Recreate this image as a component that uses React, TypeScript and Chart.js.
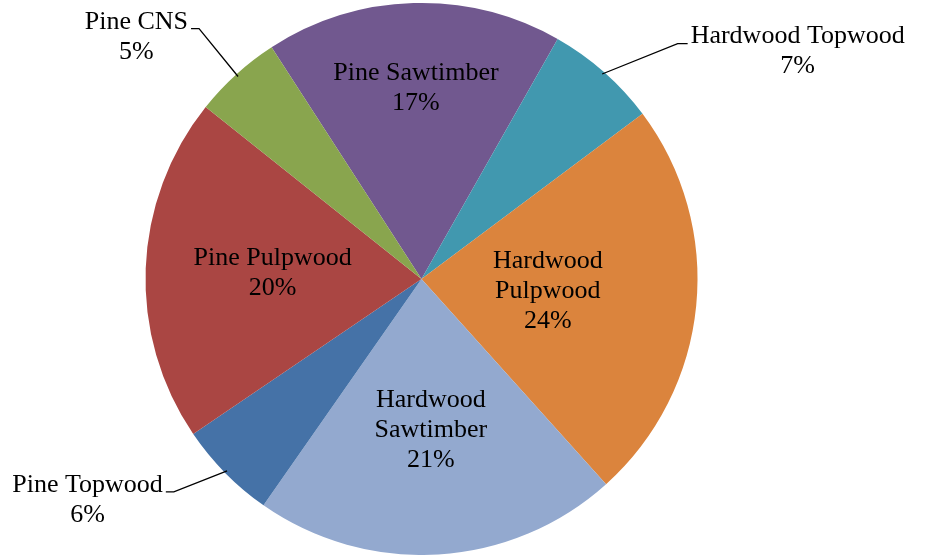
import React, { useEffect, useRef } from "react";
import { Chart, registerables } from "chart.js";

Chart.register(...registerables);

const categories = [
  "Pine Sawtimber",
  "Hardwood Topwood",
  "Hardwood Pulpwood",
  "Hardwood Sawtimber",
  "Pine Topwood",
  "Pine Pulpwood",
  "Pine CNS",
];
const shares = [17.35, 6.57, 23.56, 21.36, 5.8, 20.21, 5.15];
const colors = ["#71588F", "#4198AF", "#DB843D", "#93A9CF", "#4572A7", "#AA4643", "#89A54E"];

// label layout (relative to pie centre, in units of radius)
const labelLayout: any[] = [
  { kind: "in", f: 0.69, wrap: false },
  { kind: "out", dx: 1.363, dy: -0.824, side: "left" },
  { kind: "in", f: 0.46, wrap: true },
  { kind: "in", f: 0.55, wrap: true },
  { kind: "out", dx: -1.21, dy: 0.8, side: "right" },
  { kind: "in", f: 0.54, wrap: false },
  { kind: "out", dx: -1.033, dy: -0.878, side: "right" },
];

const FONT = '26px "Liberation Serif"';
const LINE_H = 30;

const labelPlugin = {
  id: "pieLabels",
  afterDraw(chart: any) {
    const ctx = chart.ctx;
    const meta = chart.getDatasetMeta(0);
    const total = shares.reduce((a, b) => a + b, 0);
    ctx.save();
    ctx.font = FONT;
    ctx.fillStyle = "#000";
    ctx.textAlign = "center";
    ctx.textBaseline = "middle";
    meta.data.forEach((arc: any, i: number) => {
      const { x, y, startAngle, endAngle, outerRadius } = arc.getProps(
        ["x", "y", "startAngle", "endAngle", "outerRadius"],
        true
      );
      const mid = (startAngle + endAngle) / 2;
      const pct = Math.round((shares[i] / total) * 100) + "%";
      const L = labelLayout[i];
      let lines: string[];
      let cx: number, cy: number;
      if (L.kind === "in") {
        lines = L.wrap ? [...categories[i].split(" "), pct] : [categories[i], pct];
        cx = x + Math.cos(mid) * outerRadius * L.f;
        cy = y + Math.sin(mid) * outerRadius * L.f;
      } else {
        lines = [categories[i], pct];
        cx = x + L.dx * outerRadius;
        cy = y + L.dy * outerRadius;
        const w = ctx.measureText(categories[i]).width;
        const ly = cy - 8;
        const ex = x + Math.cos(mid) * outerRadius * 0.99;
        const ey = y + Math.sin(mid) * outerRadius * 0.99;
        let hx1: number, hx2: number;
        if (L.side === "right") {
          hx1 = cx + w / 2 + 3;
          hx2 = hx1 + 8;
        } else {
          hx1 = cx - w / 2 - 3;
          hx2 = hx1 - 10;
        }
        ctx.beginPath();
        ctx.strokeStyle = "#000";
        ctx.lineWidth = 1.3;
        ctx.moveTo(hx1, ly);
        ctx.lineTo(hx2, ly);
        ctx.lineTo(ex, ey);
        ctx.stroke();
      }
      const top = cy - ((lines.length - 1) * LINE_H) / 2;
      lines.forEach((t, k) => ctx.fillText(t, cx, top + k * LINE_H));
    });
    ctx.restore();
  },
};

export default function App() {
  const ref = useRef<HTMLCanvasElement>(null);
  useEffect(() => {
    document.body.style.margin = "0";
    const chart = new Chart(ref.current!, {
      type: "pie",
      data: {
        labels: categories,
        datasets: [
          {
            data: shares,
            backgroundColor: colors,
            borderWidth: 0,
          },
        ],
      },
      options: {
        animation: false,
        responsive: false,
        rotation: -32.9,
        layout: { padding: { top: 3, bottom: 0, left: 0, right: 83 } },
        plugins: { legend: { display: false }, tooltip: { enabled: false } },
      },
      plugins: [labelPlugin],
    });
    return () => chart.destroy();
  }, []);
  return (
    <div style={{ width: 926, height: 555 }}>
      <canvas ref={ref} width={926} height={555} />
    </div>
  );
}
